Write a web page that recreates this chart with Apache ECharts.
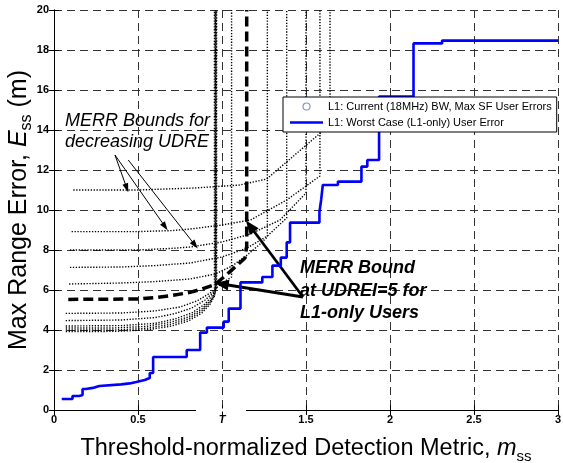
<!DOCTYPE html>
<html><head><meta charset="utf-8">
<script src="https://cdn.jsdelivr.net/npm/echarts@6/dist/echarts.min.js"></script>
<style>html,body{margin:0;padding:0;background:#fff}#c{width:563px;height:463px}</style>
</head><body><div id="c"></div>
<script>
// ---------- data ----------
const xTickLabels = ['0', '0.5', 'T', '1.5', '2', '2.5', '3'];
const legendCurrent = 'L1: Current (18MHz) BW, Max SF User Errors';
const legendWorst = 'L1: Worst Case (L1-only) User Error';

// L1 worst case (L1-only) user error: staircase, [metric, error] where each step starts
const worstCase = [
  [0.046,0.55],[0.11,0.7],[0.15,0.75],[0.17,1.05],[0.19,1.12],[0.24,1.2],[0.27,1.28],
  [0.40,1.33],[0.45,1.4],[0.49,1.5],[0.54,1.6],[0.57,1.85],[0.59,2.65],[0.79,3.0],
  [0.87,3.87],[0.91,4.12],[1.01,4.42],[1.04,5.07],[1.11,6.38],[1.24,6.65],[1.30,7.22],
  [1.35,7.62],[1.385,8.38],[1.405,9.37],[1.58,9.9],[1.59,10.5],[1.60,11.25],[1.69,11.42],
  [1.83,12.17],[1.865,12.5],[1.935,15.67],[2.14,18.33],[2.31,18.47],[3.0,18.47]
];

// MERR bound at UDREI=5 for L1-only users (bold dashed)
const udrei5Bound = [
  [0.085,5.53],[0.5,5.55],[0.6,5.62],[0.7,5.72],[0.81,5.88],[0.88,6.05],[0.958,6.27],
  [1.048,6.92],[1.137,7.6],[1.147,8.2],[1.147,20]
];

// MERR bounds for decreasing UDRE (dotted)
const merr392 = [[0.07,3.92],[0.35,3.93],[0.55,4.0],[0.7,4.2],[0.8,4.45],[0.88,4.85],[0.93,5.3],[0.955,5.7],[0.955,20]];
const merr400 = [[0.07,4.0],[0.35,4.0],[0.55,4.08],[0.7,4.3],[0.8,4.55],[0.88,4.95],[0.93,5.4],[0.96,5.8],[0.96,20]];
const merr410 = [[0.07,4.1],[0.35,4.1],[0.55,4.18],[0.7,4.4],[0.8,4.65],[0.88,5.05],[0.935,5.5],[0.962,5.9],[0.962,20]];
const merr420 = [[0.07,4.2],[0.4,4.22],[0.6,4.33],[0.72,4.55],[0.82,4.85],[0.9,5.3],[0.94,5.7],[0.965,6.0],[0.965,20]];
const merr447 = [[0.07,4.47],[0.4,4.5],[0.6,4.62],[0.72,4.82],[0.82,5.1],[0.9,5.5],[0.95,5.9],[0.968,6.1],[0.968,20]];
const merr483 = [[0.07,4.83],[0.4,4.85],[0.6,4.95],[0.75,5.15],[0.85,5.45],[0.93,5.85],[0.98,6.2],[1.02,6.45],[1.057,6.65],[1.057,20]];
const merr630 = [[0.09,6.3],[0.4,6.35],[0.6,6.42],[0.81,6.55],[0.96,6.8],[1.06,7.2],[1.15,7.75],[1.22,8.25],[1.27,8.65],[1.27,20]];
const merr713 = [[0.095,7.13],[0.4,7.15],[0.6,7.22],[0.81,7.35],[1.0,7.65],[1.15,8.1],[1.27,8.7],[1.385,9.6],[1.385,20]];
const merr800 = [[0.095,8.0],[0.5,8.0],[0.7,8.08],[0.81,8.15],[1.0,8.4],[1.17,8.8],[1.345,9.5],[1.5,10.85],[1.5,20]];
const merr892 = [[0.105,8.92],[0.5,8.92],[0.7,8.97],[0.81,9.05],[1.0,9.25],[1.17,9.5],[1.385,10.5],[1.583,11.7],[1.583,20]];
const merr1100 = [[0.115,11.0],[0.5,11.0],[0.84,11.1],[1.107,11.25],[1.266,11.55],[1.583,13.83],[1.643,14.3],[1.643,20]];
const merrCurves = [merr392, merr400, merr410, merr420, merr447, merr483, merr630, merr713, merr800, merr892, merr1100];

// annotation arrows [from, to] in data coordinates
const thinArrows = [
  [[0.363,12.75],[0.433,11.1]],
  [[0.363,12.75],[0.661,9.17]],
  [[0.442,12.5],[0.839,8.25]]
];
const thickArrows = [
  [[1.482,5.65],[1.167,9.2]],
  [[1.482,5.65],[0.998,6.3]]
];

// ---------- chart ----------
const FONT = 'Arial, "Liberation Sans", sans-serif';
const chart = echarts.init(document.getElementById('c'), null, {renderer: 'canvas'});

const dotted = merrCurves.map((d, i) => ({
  type: 'line', name: 'merr' + i, data: d, symbol: 'none', silent: true,
  lineStyle: {color: '#000', width: 1.4, type: [1.3, 1.6]}, z: 3
}));

function arrowData(list, width, size) {
  return list.map(a => [
    {coord: a[0], symbol: 'none', lineStyle: {color: '#000', width: width, type: 'solid'}},
    {coord: a[1], symbol: 'triangle', symbolSize: size}
  ]);
}

const option = {
  animation: false,
  backgroundColor: '#fff',
  textStyle: {fontFamily: FONT},
  grid: {left: 54, right: 5, top: 10, bottom: 53, containLabel: false, outerBoundsMode: 'none'},
  legend: {
    data: [
      {name: legendCurrent, icon: 'circle', itemStyle: {color: '#fff', borderColor: '#6878b8', borderWidth: 1.2}},
      {name: legendWorst, icon: 'path://M0,0H100V8H0Z', itemStyle: {color: '#0000ff', borderWidth: 0}}
    ],
    orient: 'vertical', left: 283, top: 97,
    padding: [4, 5, 4, 7], itemGap: 5, itemWidth: 33, itemHeight: 7,
    backgroundColor: '#fff', borderColor: '#000', borderWidth: 1, borderRadius: 0,
    textStyle: {fontSize: 11, fontFamily: FONT, color: '#000'},
    selectedMode: false, z: 10
  },
  xAxis: [{
    type: 'value', min: 0, max: 3, interval: 0.5,
    name: 'Threshold-normalized Detection Metric, {m|m}{s|ss}',
    nameLocation: 'middle', nameGap: 23, nameMoveOverlap: false,
    nameTextStyle: {fontSize: 23.5, fontFamily: FONT, color: '#000', lineHeight: 31,
      rich: {m: {fontSize: 23.5, fontStyle: 'italic', fontFamily: FONT, lineHeight: 31},
             s: {fontSize: 15, fontFamily: FONT, verticalAlign: 'bottom', lineHeight: 16}}},
    axisLine: {show: true, lineStyle: {color: '#000', width: 1}},
    axisTick: {show: true, inside: true, length: 5, lineStyle: {color: '#000'}},
    axisLabel: {
      margin: 4, fontSize: 11, fontWeight: 'bold', color: '#000', fontFamily: FONT,
      formatter: (v, i) => { const t = xTickLabels[i]; return t === 'T' ? '{t|T}' : t; },
      rich: {t: {fontSize: 11, fontWeight: 'bold', fontStyle: 'italic', color: '#000', fontFamily: FONT}}
    },
    splitLine: {show: true, lineStyle: {color: '#333', width: 1, type: [8, 5]}}
  }, {
    type: 'value', min: 0, max: 3, interval: 0.5, position: 'top',
    axisLine: {show: true, lineStyle: {color: '#000', width: 1}},
    axisTick: {show: true, inside: true, length: 5, lineStyle: {color: '#000'}},
    axisLabel: {show: false}, splitLine: {show: false}
  }],
  yAxis: [{
    type: 'value', min: 0, max: 20, interval: 2,
    name: 'Max Range Error, {e|E}{s|ss} (m)',
    nameLocation: 'middle', nameGap: 19, nameMoveOverlap: false,
    nameTextStyle: {fontSize: 25, fontFamily: FONT, color: '#000', lineHeight: 32,
      rich: {e: {fontSize: 25, fontStyle: 'italic', fontFamily: FONT, lineHeight: 32},
             s: {fontSize: 16, fontFamily: FONT, verticalAlign: 'bottom', lineHeight: 17}}},
    axisLine: {show: true, lineStyle: {color: '#000', width: 1}},
    axisTick: {show: true, inside: true, length: 5, lineStyle: {color: '#000'}},
    axisLabel: {margin: 5, fontSize: 11, fontWeight: 'bold', color: '#000', fontFamily: FONT},
    splitLine: {show: true, lineStyle: {color: '#333', width: 1, type: [8, 5]}}
  }, {
    type: 'value', min: 0, max: 20, interval: 2, position: 'right',
    axisLine: {show: true, lineStyle: {color: '#000', width: 1}},
    axisTick: {show: true, inside: true, length: 5, lineStyle: {color: '#000'}},
    axisLabel: {show: false}, splitLine: {show: false}
  }],
  series: [
    {type: 'scatter', name: legendCurrent, data: [], symbol: 'emptyCircle', symbolSize: 6,
     itemStyle: {color: '#6878b8'}},
    ...dotted,
    {type: 'line', name: 'udrei5', data: udrei5Bound, symbol: 'none', silent: true, z: 4,
     lineStyle: {color: '#000', width: 3.5, type: [10, 5]}},
    {type: 'line', name: legendWorst, data: worstCase, step: 'end', symbol: 'none', silent: true, z: 5,
     lineStyle: {color: '#0000ff', width: 2.6}, itemStyle: {color: '#0000ff'}},
    {type: 'line', name: 'arrows', data: [], symbol: 'none', silent: true, z: 6,
     markLine: {silent: true, animation: false, label: {show: false}, symbol: ['none', 'triangle'],
       emphasis: {disabled: true},
       data: [...arrowData(thinArrows, 1, [6, 9]), ...arrowData(thickArrows, 2.8, [11, 14])],
       itemStyle: {color: '#000'}}}
  ],
  graphic: [
    {type: 'text', left: 65, top: 110, z: 20,
     style: {text: 'MERR Bounds for\ndecreasing UDRE', font: 'italic 18px ' + FONT, fill: '#000', lineHeight: 21}},
    {type: 'text', left: 300, top: 257, z: 20,
     style: {text: 'MERR Bound\nat UDREI=5 for\nL1-only Users', font: 'italic bold 18px ' + FONT,
             fill: '#000', lineHeight: 22.5, align: 'center', width: 134}}
  ]
};
chart.setOption(option);

// white gap on the x axis line around the "T" label
const tx = chart.convertToPixel({xAxisIndex: 0}, 1);
const ty = chart.convertToPixel({yAxisIndex: 0}, 0);
chart.setOption({graphic: [
  option.graphic[0], option.graphic[1],
  {type: 'rect', shape: {x: tx - 26, y: ty - 1.5, width: 50, height: 3}, style: {fill: '#fff'}, z: 30}
]});
</script></body></html>
